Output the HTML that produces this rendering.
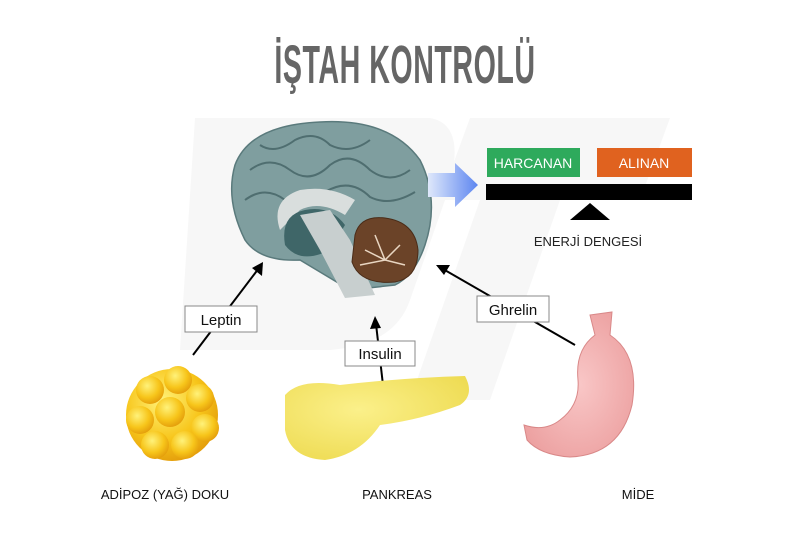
<!DOCTYPE html>
<html><head><meta charset="utf-8"><style>
html,body{margin:0;padding:0;background:#fff;width:810px;height:539px;overflow:hidden}
svg{display:block}
text{font-family:"Liberation Sans",sans-serif}
</style></head><body>
<svg width="810" height="539" viewBox="0 0 810 539">
<defs>
<linearGradient id="bl" x1="0" x2="1"><stop offset="0" stop-color="#dfe8fb"/><stop offset="1" stop-color="#5d86f0"/></linearGradient>
<radialGradient id="fat" cx="0.4" cy="0.35" r="0.7"><stop offset="0" stop-color="#fff27a"/><stop offset="0.6" stop-color="#f7c51a"/><stop offset="1" stop-color="#e29a0a"/></radialGradient>
<radialGradient id="pk" cx="0.4" cy="0.4" r="0.8"><stop offset="0" stop-color="#fbf08a"/><stop offset="1" stop-color="#ecd84a"/></radialGradient>
<radialGradient id="st" cx="0.5" cy="0.5" r="0.7"><stop offset="0" stop-color="#f9c7c7"/><stop offset="1" stop-color="#ea9a9a"/></radialGradient>
</defs>
<path d="M195 118 L430 118 Q470 125 445 200 L410 300 Q395 345 330 350 L180 350 Z" fill="#f7f7f7"/>
<path d="M470 118 L670 118 L640 200 L560 200 L490 400 L410 400 L480 200 L440 200 Z" fill="#f7f7f7"/>
<text x="405" y="83" text-anchor="middle" font-size="54" font-weight="bold" fill="#666" transform="translate(405 0) scale(0.53 1) translate(-405 0)" letter-spacing="1">İŞTAH KONTROLÜ</text>
<path d="M245 240 Q225 200 235 165 Q250 125 320 122 Q390 118 420 160 Q440 200 425 245 Q415 275 395 285 L350 290 L300 260 Q260 262 245 240 Z" fill="#7f9e9f" stroke="#5a7a7c" stroke-width="1.5"/>
<path d="M250 170 q20 -15 40 0 q20 15 40 -5 q20 -15 40 5 q20 15 40 0 M245 200 q20 -15 40 0 q20 10 40 -8 q25 -15 45 5 q20 10 45 -5 M260 145 q15 10 35 -5 q20 -10 35 5 q20 10 40 -5" fill="none" stroke="#4f6e70" stroke-width="2"/>
<path d="M280 230 Q270 200 300 190 Q330 185 355 200 L345 215 Q320 200 300 210 Z" fill="#d9dedd"/>
<path d="M285 245 Q280 215 305 210 Q330 205 345 225 L330 250 Q300 265 285 245 Z" fill="#3f6668"/>
<path d="M300 215 L330 210 L350 240 L375 295 L345 298 L320 250 Z" fill="#c8cfcf"/>
<path d="M355 235 Q360 215 385 218 Q415 222 418 250 Q418 278 395 282 Q360 285 352 262 Z" fill="#6b4328" stroke="#4a2c18"/>
<path d="M365 250 l20 10 l15 -15 M375 235 l10 25 l20 5 M360 265 l25 -5" stroke="#e9d6c2" stroke-width="1.5" fill="none"/>
<path d="M428 173 L455 173 L455 163 L478 185 L455 207 L455 197 L428 197 Z" fill="url(#bl)"/>
<rect x="487" y="148" width="93" height="29" fill="#2eaa5c"/>
<text x="533" y="168" text-anchor="middle" font-size="14" fill="#fff">HARCANAN</text>
<rect x="597" y="148" width="95" height="29" fill="#e0621f"/>
<text x="644" y="168" text-anchor="middle" font-size="14" fill="#fff">ALINAN</text>
<rect x="486" y="184" width="206" height="16" fill="#000"/>
<path d="M590 203 L570 220 L610 220 Z" fill="#000"/>
<text x="588" y="246" text-anchor="middle" font-size="13" fill="#222">ENERJİ DENGESİ</text>
<g stroke="#000" stroke-width="2" fill="none">
<line x1="193" y1="355" x2="259" y2="268"/>
<line x1="383" y1="385" x2="376" y2="324"/>
<line x1="575" y1="345" x2="443" y2="269"/>
</g>
<path d="M263 262 L262 276 L252 268 Z" fill="#000"/>
<path d="M375 316 L381 328 L370 329 Z" fill="#000"/>
<path d="M436 265 L450 265 L444 275 Z" fill="#000"/>
<g font-size="15" fill="#111">
<rect x="185" y="306" width="72" height="26" fill="#fff" stroke="#888"/><text x="221" y="325" text-anchor="middle">Leptin</text>
<rect x="345" y="341" width="70" height="25" fill="#fff" stroke="#888"/><text x="380" y="359" text-anchor="middle">Insulin</text>
<rect x="477" y="296" width="72" height="26" fill="#fff" stroke="#888"/><text x="513" y="315" text-anchor="middle">Ghrelin</text>
</g>
<g fill="url(#fat)">
<circle cx="172" cy="415" r="46"/>
<circle cx="150" cy="390" r="14"/><circle cx="178" cy="380" r="14"/><circle cx="200" cy="398" r="14"/>
<circle cx="140" cy="420" r="14"/><circle cx="170" cy="412" r="15"/><circle cx="205" cy="428" r="14"/>
<circle cx="155" cy="445" r="14"/><circle cx="185" cy="445" r="14"/>
</g>
<path d="M285 395 Q300 378 340 385 Q400 378 465 376 Q475 395 460 405 Q420 420 380 425 Q360 455 325 460 Q290 458 285 430 Z" fill="url(#pk)"/>
<path d="M590 315 L612 312 L610 335 Q640 355 632 405 Q620 455 570 457 Q540 455 527 440 L524 425 Q545 432 560 420 Q580 405 578 380 Q575 350 595 335 Z" fill="url(#st)" stroke="#d98888"/>
<g font-size="13" fill="#111" text-anchor="middle">
<text x="165" y="499">ADİPOZ (YAĞ) DOKU</text>
<text x="397" y="499">PANKREAS</text>
<text x="638" y="499">MİDE</text>
</g>
</svg>
</body></html>
